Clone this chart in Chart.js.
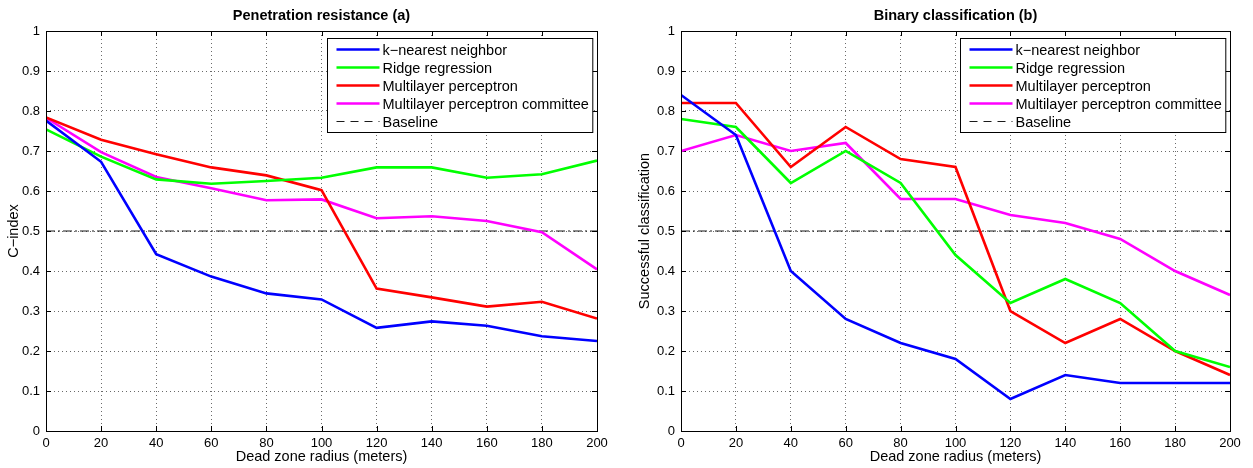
<!DOCTYPE html>
<html>
<head>
<meta charset="utf-8">
<script src="https://cdn.jsdelivr.net/npm/chart.js@4.4.1/dist/chart.umd.min.js"></script>
<style>
  body { margin: 0; background: #fff; }
  .wrap { position: absolute; top: 0; height: 468px; }
  #wrapA { left: 0; width: 626px; }
  #wrapB { left: 626px; width: 627px; }
</style>
</head>
<body>
<div class="wrap" id="wrapA"><canvas id="chartA"></canvas></div>
<div class="wrap" id="wrapB"><canvas id="chartB"></canvas></div>
<script>
const radius = [0, 20, 40, 60, 80, 100, 120, 140, 160, 180, 200];
const yTicks = [0, 0.1, 0.2, 0.3, 0.4, 0.5, 0.6, 0.7, 0.8, 0.9, 1];
const seriesNames = [
  "k\u2212nearest neighbor",
  "Ridge regression",
  "Multilayer perceptron",
  "Multilayer perceptron committee",
];
const baselineName = "Baseline";
const baselineValue = 0.5;

// (a) penetration resistance, C-index
const knnA = [0.776, 0.673, 0.442, 0.386, 0.344, 0.329, 0.258, 0.274, 0.263, 0.237, 0.225];
const ridgeA = [0.754, 0.686, 0.629, 0.618, 0.625, 0.633, 0.659, 0.659, 0.633, 0.642, 0.676];
const mlpA = [0.784, 0.728, 0.692, 0.659, 0.639, 0.602, 0.356, 0.334, 0.311, 0.323, 0.281];
const committeeA = [0.783, 0.697, 0.635, 0.607, 0.577, 0.579, 0.532, 0.537, 0.525, 0.497, 0.404];

// (b) binary classification
const knnB = [0.84, 0.74, 0.40, 0.28, 0.22, 0.18, 0.08, 0.14, 0.12, 0.12, 0.12];
const ridgeB = [0.78, 0.76, 0.62, 0.70, 0.62, 0.44, 0.32, 0.38, 0.32, 0.20, 0.16];
const mlpB = [0.82, 0.82, 0.66, 0.76, 0.68, 0.66, 0.30, 0.22, 0.28, 0.20, 0.14];
const committeeB = [0.70, 0.74, 0.70, 0.72, 0.58, 0.58, 0.54, 0.52, 0.48, 0.40, 0.34];

const colors = ["#0000ff", "#00ff00", "#ff0000", "#ff00ff"];
const FONT = "'Liberation Sans', Arial, Helvetica, sans-serif";

function pts(values) {
  return values.map((v, i) => ({ x: radius[i], y: v }));
}

function buildDatasets(seriesList) {
  const ds = seriesList.map((values, i) => ({
    label: seriesNames[i],
    data: pts(values),
    borderColor: colors[i],
    backgroundColor: colors[i],
    borderWidth: 2.6,
    pointRadius: 0,
    tension: 0,
    fill: false,
  }));
  ds.push({
    label: baselineName,
    data: [
      { x: radius[0], y: baselineValue },
      { x: radius[radius.length - 1], y: baselineValue },
    ],
    borderColor: "#000",
    borderWidth: 0.9,
    borderDash: [9, 3, 2, 3],
    pointRadius: 0,
    legendDash: [8, 6],
  });
  return ds;
}

// box, inward tick marks, title and legend drawn matlab-like
const matlabFrame = {
  id: "matlabFrame",
  beforeDatasetsDraw(chart) {
    const { ctx, chartArea: a, scales } = chart;
    ctx.save();
    ctx.strokeStyle = "#000";
    ctx.lineWidth = 1;
    ctx.beginPath();
    scales.y.ticks.forEach((t) => {
      const y = Math.round(scales.y.getPixelForValue(t.value)) + 0.5;
      ctx.moveTo(a.left, y); ctx.lineTo(a.left + 5, y);
      ctx.moveTo(a.right, y); ctx.lineTo(a.right - 5, y);
    });
    scales.x.ticks.forEach((t) => {
      const x = Math.round(scales.x.getPixelForValue(t.value)) + 0.5;
      ctx.moveTo(x, a.bottom); ctx.lineTo(x, a.bottom - 5);
      ctx.moveTo(x, a.top); ctx.lineTo(x, a.top + 5);
    });
    ctx.stroke();
    ctx.restore();
  },
  afterDatasetsDraw(chart, args, opts) {
    const { ctx, chartArea: a } = chart;
    ctx.save();
    ctx.strokeStyle = "#000";
    ctx.lineWidth = 1;
    ctx.strokeRect(Math.round(a.left) + 0.5, Math.round(a.top) + 0.5,
      Math.round(a.right - a.left), Math.round(a.bottom - a.top));

    // title
    ctx.fillStyle = "#000";
    ctx.font = "bold 14.5px " + FONT;
    ctx.textAlign = "center";
    ctx.textBaseline = "middle";
    ctx.fillText(opts.title, (a.left + a.right) / 2, 16);

    // legend
    const ds = chart.data.datasets;
    ctx.font = "14.5px " + FONT;
    let maxW = 0;
    ds.forEach((d) => { maxW = Math.max(maxW, ctx.measureText(d.label).width); });
    const rowH = 18;
    const boxW = 9 + 43 + 3 + maxW + 4;
    const boxH = 94;
    const bx = Math.round(a.right - 5 - boxW) + 0.5;
    const by = Math.round(a.top + 7) + 0.5;
    ctx.fillStyle = "#fff";
    ctx.fillRect(bx, by, boxW, boxH);
    ctx.strokeRect(bx, by, boxW, boxH);
    ds.forEach((d, i) => {
      const cy = by + 11 + i * rowH;
      ctx.beginPath();
      ctx.strokeStyle = d.borderColor;
      ctx.lineWidth = d.borderWidth;
      ctx.setLineDash(d.legendDash || []);
      ctx.moveTo(bx + 9, cy);
      ctx.lineTo(bx + 52, cy);
      ctx.stroke();
      ctx.setLineDash([]);
      ctx.fillStyle = "#000";
      ctx.textAlign = "left";
      ctx.fillText(d.label, bx + 55, cy + 1);
    });
    ctx.restore();
  },
};

function makeChart(canvasId, seriesList, title, yTitle, yWidth, rightPad, yTitlePad) {
  return new Chart(document.getElementById(canvasId), {
    type: "line",
    data: { datasets: buildDatasets(seriesList) },
    plugins: [matlabFrame],
    options: {
      responsive: true,
      maintainAspectRatio: false,
      animation: false,
      layout: { padding: { top: 31, right: rightPad, bottom: 0, left: 0 } },
      scales: {
        x: {
          type: "linear",
          min: 0,
          max: 200,
          afterBuildTicks: (s) => { s.ticks = radius.map((v) => ({ value: v })); },
          afterFit: (s) => { s.height = 37; },
          grid: {
            color: "#444",
            lineWidth: 0.8,
            drawTicks: false,
            tickLength: 0,
          },
          border: { display: false, dash: [1, 3] },
          ticks: {
            color: "#000",
            padding: 5,
            maxRotation: 0,
            font: { family: FONT, size: 13 },
          },
          title: {
            display: true,
            text: "Dead zone radius (meters)",
            color: "#000",
            padding: { top: 0, bottom: 2 },
            font: { family: FONT, size: 14.5 },
          },
        },
        y: {
          min: 0,
          max: 1,
          afterBuildTicks: (s) => { s.ticks = yTicks.map((v) => ({ value: v })); },
          afterFit: (s) => { s.width = yWidth; },
          grid: {
            color: "#444",
            lineWidth: 0.8,
            drawTicks: false,
            tickLength: 0,
          },
          border: { display: false, dash: [1, 3] },
          ticks: {
            color: "#000",
            padding: 6,
            callback: (v) => String(v),
            font: { family: FONT, size: 13 },
          },
          title: {
            display: true,
            text: yTitle,
            color: "#000",
            padding: { top: yTitlePad, bottom: 2 },
            font: { family: FONT, size: 14.5 },
          },
        },
      },
      plugins: {
        legend: { display: false },
        tooltip: { enabled: false },
        matlabFrame: { title: title },
      },
    },
  });
}

makeChart("chartA", [knnA, ridgeA, mlpA, committeeA],
  "Penetration resistance (a)", "C\u2212index", 46, 29, 5);
makeChart("chartB", [knnB, ridgeB, mlpB, committeeB],
  "Binary classification (b)", "Successful classification", 55, 23, 10);
</script>
</body>
</html>
